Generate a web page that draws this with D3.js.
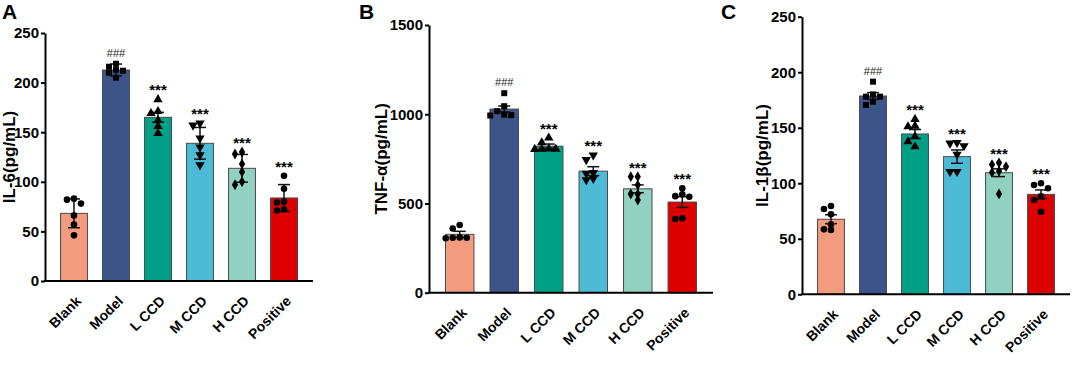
<!DOCTYPE html>
<html>
<head>
<meta charset="utf-8">
<script src="https://cdn.jsdelivr.net/npm/d3@7"></script>
<style>
body { margin: 0; background: #fff; }
svg text { font-family: "Liberation Sans", Arial, sans-serif; }
</style>
</head>
<body>
<svg id="chart" width="1072" height="366"></svg>
<script>
const groups = ['Blank', 'Model', 'L CCD', 'M CCD', 'H CCD', 'Positive'];
const barColors = ['#F39B7F', '#3C5488', '#00A087', '#4DBBD5', '#91D1C2', '#DC0000'];
const markerShapes = ['circle', 'square', 'triangle', 'triangleDown', 'diamond', 'circle'];
const signif = ['', '###', '***', '***', '***', '***'];

// IL-6
const il6Mean = [68.2, 212.7, 165, 138.8, 113.6, 83.7];
const il6Err = [14.5, 6, 5, 16, 14, 13.5];
const il6Points = [
    [82, 83, 78, 66, 57, 46],
    [216, 219, 212, 205, 213, 210],
    [183, 171, 169, 162, 156, 149],
    [159, 157, 144, 135, 127, 117],
    [128, 130, 118, 110, 100, 97],
    [106, 93, 80, 79, 72, 71]
];

// TNF-a
const tnfMean = [327, 1029, 821, 681, 582, 508];
const tnfErr = [17, 17, 12, 25, 22, 30];
const tnfPoints = [
    [308, 360, 379, 310, 305, 308],
    [1017, 1118, 1045, 995, 998, 993],
    [805, 841, 868, 805, 806, 804],
    [745, 771, 668, 672, 640, 632],
    [650, 650, 603, 553, 553, 519],
    [551, 585, 538, 541, 417, 413]
];

// IL-1b
const il1Mean = [67.6, 178.6, 144.4, 124, 109.5, 90];
const il1Err = [4, 3, 4, 6, 3.5, 4];
const il1Points = [
    [76.8, 79.5, 72, 63, 58.5, 58],
    [191.5, 180, 178, 178, 173.5, 170.5],
    [157.7, 151.6, 151, 142, 137.5, 133],
    [136, 133.6, 136.6, 126, 110.4, 110.4],
    [115, 116.8, 118.4, 111, 109.6, 90.4],
    [98.5, 100, 95.5, 88.3, 85, 74.4]
];

const panels = [
    {letter: 'A', label: 'IL-6(pg/mL)', mean: il6Mean, err: il6Err, points: il6Points, max: 250, step: 50,
     left: 45, right: 313, top: 33, bottom: 281, labelX: 9, letterX: 2, letterY: 19},
    {letter: 'B', label: 'TNF-α(pg/mL)', mean: tnfMean, err: tnfErr, points: tnfPoints, max: 1500, step: 500,
     left: 429, right: 713, top: 25, bottom: 292.7, labelX: 381, letterX: 359, letterY: 19},
    {letter: 'C', label: 'IL-1β(pg/mL)', mean: il1Mean, err: il1Err, points: il1Points, max: 250, step: 50,
     left: 802, right: 1070, top: 16.7, bottom: 294.3, labelX: 762, letterX: 721, letterY: 19}
];

const svg = d3.select('#chart');

function symbolPath(shape) {
    if (shape === 'square') return d3.symbol(d3.symbolSquare, 36)();
    if (shape === 'triangle' || shape === 'triangleDown') return d3.symbol(d3.symbolTriangle, 38)();
    if (shape === 'diamond') return d3.symbol(d3.symbolDiamond, 34)();
    return d3.symbol(d3.symbolCircle, 34)();
}

// spread points sideways so they don't sit on top of each other
function dodge(values, y, spacing, minDist) {
    const order = values.map((v, i) => i).sort((a, b) => values[b] - values[a]);
    const placed = [];
    const offsets = new Array(values.length).fill(0);
    const candidates = [0, -1, 1, -2, 2, -3, 3];
    order.forEach(i => {
        const py = y(values[i]);
        for (const c of candidates) {
            const px = c * spacing;
            const hit = placed.some(p => Math.hypot(p.x - px, p.y - py) < minDist);
            if (!hit) {
                offsets[i] = px;
                placed.push({x: px, y: py});
                break;
            }
        }
    });
    return offsets;
}

function drawPanel(p) {
    const g = svg.append('g');

    const x = d3.scaleBand()
        .domain(groups)
        .range([p.left, p.right])
        .paddingInner(0.36)
        .paddingOuter(0.37);

    const y = d3.scaleLinear()
        .domain([0, p.max])
        .range([p.bottom, p.top]);

    const bw = x.bandwidth();

    g.selectAll('.bar')
        .data(groups)
        .enter()
        .append('rect')
        .attr('x', d => x(d))
        .attr('y', (d, i) => y(p.mean[i]))
        .attr('width', bw)
        .attr('height', (d, i) => p.bottom - y(p.mean[i]))
        .attr('fill', (d, i) => barColors[i])
        .attr('stroke', '#4a4a4a')
        .attr('stroke-width', 1);

    groups.forEach((gname, i) => {
        const cx = x(gname) + bw / 2;
        const hi = y(p.mean[i] + p.err[i]);
        const lo = y(p.mean[i] - p.err[i]);

        g.append('line')
            .attr('x1', cx).attr('x2', cx)
            .attr('y1', hi).attr('y2', lo)
            .attr('stroke', '#111').attr('stroke-width', 1.5);
        [hi, lo].forEach(yy => {
            g.append('line')
                .attr('x1', cx - 6).attr('x2', cx + 6)
                .attr('y1', yy).attr('y2', yy)
                .attr('stroke', '#111').attr('stroke-width', 1.5);
        });

        const offs = dodge(p.points[i], y, 7, 5.5);
        const shape = markerShapes[i];
        g.selectAll(null)
            .data(p.points[i])
            .enter()
            .append('path')
            .attr('d', symbolPath(shape))
            .attr('transform', (v, j) => `translate(${cx + offs[j]},${y(v)})` + (shape === 'triangleDown' ? ' rotate(180)' : ''))
            .attr('fill', '#000');

        if (signif[i]) {
            const topPx = Math.min(hi, y(d3.max(p.points[i])) - 4);
            const t = g.append('text')
                .attr('x', cx)
                .attr('text-anchor', 'middle')
                .text(signif[i]);
            if (signif[i] === '###') {
                t.attr('y', topPx - 3).style('font-size', '11px').attr('fill', '#222');
            } else {
                t.attr('y', topPx).style('font-size', '15px').style('font-weight', 'bold');
            }
        }
    });

    const yAxis = g.append('g')
        .attr('transform', `translate(${p.left},0)`)
        .call(d3.axisLeft(y)
            .tickValues(d3.range(0, p.max + 1, p.step))
            .tickFormat(d3.format('d'))
            .tickSize(4).tickPadding(2).tickSizeOuter(0));
    yAxis.select('.domain').attr('stroke', '#000').attr('stroke-width', 2);
    yAxis.selectAll('.tick line').attr('stroke', '#000').attr('stroke-width', 2);
    yAxis.selectAll('.tick text')
        .attr('font-size', null)
        .style('font-size', '15px')
        .style('font-weight', 'bold')
        .attr('fill', '#000');

    g.append('line')
        .attr('x1', p.left - 1).attr('x2', p.right)
        .attr('y1', p.bottom).attr('y2', p.bottom)
        .attr('stroke', '#000').attr('stroke-width', 2);

    g.selectAll('.xlab')
        .data(groups)
        .enter()
        .append('text')
        .attr('text-anchor', 'end')
        .attr('transform', d => `translate(${x(d) + bw / 2 + 1},${p.bottom + 14}) rotate(-45)`)
        .attr('dy', '0.7em')
        .style('font-size', '14px')
        .style('font-weight', 'bold')
        .text(d => d);

    g.append('text')
        .attr('transform', `translate(${p.labelX},${(p.top + p.bottom) / 2}) rotate(-90)`)
        .attr('text-anchor', 'middle')
        .attr('dy', '0.35em')
        .style('font-size', '17px')
        .style('font-weight', 'bold')
        .text(p.label);

    g.append('text')
        .attr('x', p.letterX)
        .attr('y', p.letterY)
        .style('font-size', '21px')
        .style('font-weight', 'bold')
        .text(p.letter);
}

panels.forEach(drawPanel);
</script>
</body>
</html>
